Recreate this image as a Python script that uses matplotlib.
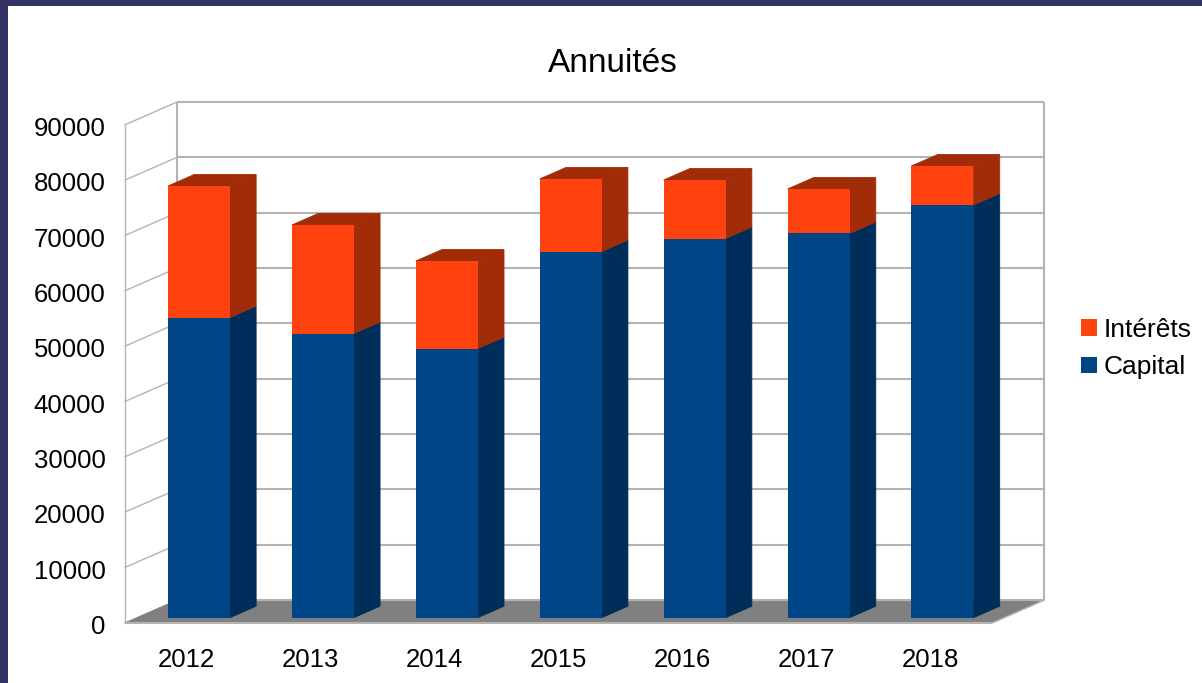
import matplotlib
matplotlib.use("Agg")
import matplotlib.pyplot as plt
from matplotlib.patches import Polygon, Rectangle, Patch
from matplotlib.transforms import ScaledTranslation

plt.rcParams['font.family'] = ['Liberation Sans', 'DejaVu Sans']

years = ['2012', '2013', '2014', '2015', '2016', '2017', '2018']
capital = [54250, 51360, 48640, 66180, 68530, 69440, 74580]
interets = [23770, 19610, 15820, 13110, 10570, 8040, 7060]
y_ticks = [0, 10000, 20000, 30000, 40000, 50000, 60000, 70000, 80000, 90000]

BLUE = '#004586'
BLUE_SIDE = '#002e5a'
ORANGE = '#ff420e'
ORANGE_SIDE = '#a02d08'
FLOOR = '#808080'
WALL = '#b3b3b3'

# depth of the fake 3d box, in data units
DX = 0.4235
DY = 4157
BAR_W = 0.5
BAR_SHIFT = 0.003
D_FRONT = 0.23
D_BACK = 0.73

W, H = 1202, 683
fig = plt.figure(figsize=(W / 100, H / 100), dpi=100, facecolor='#333366')
fig.add_artist(Rectangle((8 / W, 0), 1, 1 - 6 / H, transform=fig.transFigure,
                         facecolor='white', edgecolor='none', zorder=-5))

ax = fig.add_axes([124.5 / W, 1 - 623 / H, 867.5 / W, 498 / H])
ax.set_xlim(0, 7)
ax.set_ylim(0, 90000)
ax.patch.set_visible(False)
for s in ax.spines.values():
    s.set_visible(False)


def poly(points, color, edge=None, z=2):
    ax.add_patch(Polygon(points, closed=True, facecolor=color, edgecolor=edge or color,
                         linewidth=0.6, clip_on=False, zorder=z))


def wall_line(xs, ys, lw=1.2):
    ax.plot(xs, ys, color=WALL, linewidth=lw, clip_on=False, zorder=1, solid_capstyle='butt')


# floor
poly([(0, 0), (7, 0), (7 + DX, DY), (DX, DY)], FLOOR, z=1)

# back wall and left wall
for v in y_ticks:
    wall_line([DX, 7 + DX], [v + DY, v + DY], 1.5)
    if v > 0:
        wall_line([0, DX], [v, v + DY], 1.0)
wall_line([DX, DX], [DY, 90000 + DY], 1.5)
wall_line([7 + DX, 7 + DX], [DY, 90000 + DY], 1.5)
wall_line([0, 0], [0, 90000], 1.0)
wall_line([0, 7], [0, 0], 1.5)
wall_line([7, 7 + DX], [0, DY], 1.0)


def box_side(x1, y0, y1, color):
    poly([(x1 + D_FRONT * DX, y0 + D_FRONT * DY), (x1 + D_BACK * DX, y0 + D_BACK * DY),
          (x1 + D_BACK * DX, y1 + D_BACK * DY), (x1 + D_FRONT * DX, y1 + D_FRONT * DY)], color, z=3)


for i in range(len(years)):
    mid = i + 0.5 + BAR_SHIFT
    x0 = mid - BAR_W / 2
    x1 = mid + BAR_W / 2
    c = capital[i]
    t = capital[i] + interets[i]

    box_side(x1, 0, c, BLUE_SIDE)
    box_side(x1, c, t, ORANGE_SIDE)
    poly([(x0 + D_FRONT * DX, t + D_FRONT * DY), (x1 + D_FRONT * DX, t + D_FRONT * DY),
          (x1 + D_BACK * DX, t + D_BACK * DY), (x0 + D_BACK * DX, t + D_BACK * DY)], ORANGE_SIDE, z=3)

    # front faces
    ax.bar(mid + D_FRONT * DX, c, BAR_W, bottom=D_FRONT * DY, color=BLUE,
           clip_on=False, zorder=4)
    ax.bar(mid + D_FRONT * DX, interets[i], BAR_W, bottom=c + D_FRONT * DY, color=ORANGE,
           clip_on=False, zorder=4)

ax.set_xticks([i + 0.5 for i in range(len(years))])
ax.set_xticklabels(years)
ax.set_yticks(y_ticks)
ax.tick_params(axis='both', length=0, labelsize=18.5, colors='black')
ax.tick_params(axis='x', pad=18.2)
ax.tick_params(axis='y', pad=13.5)
# labels sit a little under their gridline in the original
shift = ScaledTranslation(0, -1.5 / 100, fig.dpi_scale_trans)
for lab in ax.get_yticklabels():
    lab.set_transform(lab.get_transform() + shift)

fig.text(613 / W, 1 - 64 / H, 'Annuités', fontsize=24, ha='center', va='center')

handles = [Patch(facecolor=ORANGE, label='Intérêts'), Patch(facecolor=BLUE, label='Capital')]
fig.legend(handles=handles, loc='upper left', bbox_to_anchor=(1081 / W, 1 - 318 / H),
           frameon=False, fontsize=19, handlelength=0.6, handleheight=0.6,
           handletextpad=0.25, labelspacing=0.5, borderpad=0, borderaxespad=0)

fig.savefig('out.png', dpi=100, facecolor=fig.get_facecolor())
